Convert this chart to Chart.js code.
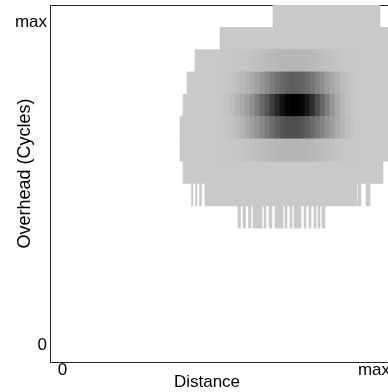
<!DOCTYPE html>
<html><head><meta charset="utf-8">
<script src="https://cdn.jsdelivr.net/npm/chart.js@4"></script>
<style>html,body{margin:0;padding:0;overflow:hidden;background:#fff;width:388px;height:392px}canvas{display:block}</style>
</head><body>
<canvas id="c" width="414" height="392"></canvas>
<script>
const xTitle = 'Distance';
const yTitle = 'Overhead (Cycles)';
const xTickLabels = ['0', 'max'];
const xTickValues = [12.5, 324];
const yTickLabels = ['0', 'max'];
const yTickValues = [0.74, 15.21];
const distanceMax = 364;
const overheadMax = 16;

// flat runs: [overhead row, distance from, distance to, grey level]
const flatRuns = [
  [15, 223, 330, 201],
  [14, 170, 350, 201],
  [13, 145, 170, 201], [13, 310, 350, 201],
  [12, 137, 170, 201], [12, 310, 350, 201],
  [11, 133, 170, 201], [11, 310, 350, 201],
  [10, 130, 170, 201], [10, 310, 350, 201],
  [9, 130, 170, 201], [9, 310, 350, 201],
  [8, 133, 333, 201],
  [7, 141.5, 143, 201], [7, 145.5, 147, 201], [7, 149.5, 151.5, 201], [7, 155, 307, 201],
  [7, 308, 311, 201], [7, 316, 320, 201],
  [6, 188, 190.5, 201], [6, 193, 195.5, 201], [6, 198.5, 201, 201], [6, 203, 212, 201],
  [6, 214, 216, 201], [6, 219, 222, 201], [6, 225, 233, 201], [6, 235, 237, 201],
  [6, 240, 242, 201], [6, 244, 251, 201], [6, 254, 256, 201], [6, 259, 261, 201],
  [6, 264, 266, 201], [6, 268, 270, 201], [6, 272, 275, 201]
];

// gradient rows: greys per distance bin, starting at gradientFrom, bin width gradientBin
const gradientFrom = 170;
const gradientBin = 5;
const gradientRows = [13, 12, 11, 10, 9];
const grey13 = [200,200,199,198,197,196,194,192,190,188,186,184,183,182,182,182,183,184,186,188,190,192,194,196,198,199,200,200];
const grey12 = [200,198,195,190,185,178,170,160,150,138,126,114,104,97,94,95,100,108,118,130,142,155,166,176,185,192,197,200];
const grey11 = [198,194,188,180,170,158,143,125,105,85,62,40,20,6,0,0,8,25,48,75,102,128,150,168,182,192,197,200];
const grey10 = [200,197,193,187,180,171,160,148,135,121,108,96,86,80,78,80,86,95,106,118,132,146,159,171,181,189,196,200];
const grey9  = [200,200,199,198,196,194,192,190,188,186,184,182,181,180,180,180,181,182,184,186,188,190,193,195,197,199,200,200];
const gradientGreys = [grey13, grey12, grey11, grey10, grey9];

const cells = [];
flatRuns.forEach(([r, a, b, g]) => cells.push({ y: r + 0.5, x: [a, b], g }));
gradientRows.forEach((r, k) => {
  gradientGreys[k].forEach((g, i) => {
    cells.push({ y: r + 0.5, x: [gradientFrom + i * gradientBin, gradientFrom + (i + 1) * gradientBin], g });
  });
});

const family = "'Liberation Sans', Arial, sans-serif";
const font = { family, size: 17, weight: 'normal', lineHeight: 1 };
const yTitleFont = { family, size: 18, weight: 'normal', lineHeight: 1 };
const axisColor = '#222';
const noPad = s => { s.paddingTop = 0; s.paddingBottom = 0; s.paddingLeft = 0; s.paddingRight = 0; };

new Chart(document.getElementById('c'), {
  type: 'bar',
  data: {
    datasets: [{
      data: cells,
      backgroundColor: c => { const g = c.raw ? c.raw.g : 201; return `rgb(${g},${g},${g})`; },
      borderWidth: 0,
      barPercentage: 1,
      categoryPercentage: 1
    }]
  },
  options: {
    indexAxis: 'y',
    responsive: false,
    animation: false,
    events: [],
    devicePixelRatio: 1,
    layout: { padding: { top: 5, left: 0, right: 0, bottom: 0 } },
    plugins: {
      legend: { display: false },
      tooltip: { enabled: false },
      title: {
        display: true, text: xTitle, position: 'bottom', align: 'center', fullSize: true,
        color: '#000', font: font, padding: { top: -8, bottom: 1 }
      }
    },
    scales: {
      x: {
        type: 'linear', position: 'bottom', min: 0, max: distanceMax, offset: false,
        grid: { display: false, drawTicks: false },
        border: { display: true, color: axisColor, width: 1 },
        ticks: { color: '#000', font: font, padding: 0, autoSkip: false, maxRotation: 0,
          callback: (v, i) => xTickLabels[i] },
        afterBuildTicks: s => { s.ticks = xTickValues.map(v => ({ value: v })); },
        afterFit: s => { s.height = 20; noPad(s); }
      },
      xTop: {
        type: 'linear', position: 'top', min: 0, max: distanceMax, offset: false,
        grid: { display: false, drawTicks: false },
        border: { display: true, color: axisColor, width: 1 },
        ticks: { display: false },
        afterFit: s => { s.height = 0; noPad(s); }
      },
      y: {
        type: 'linear', position: 'left', min: 0, max: overheadMax, offset: false,
        grid: { display: false, drawTicks: false },
        border: { display: true, color: axisColor, width: 1 },
        ticks: { color: '#000', font: font, padding: 3, autoSkip: false,
          callback: (v, i) => yTickLabels[i] },
        afterBuildTicks: s => { s.ticks = yTickValues.map(v => ({ value: v })); },
        afterFit: s => { s.width = 50; noPad(s); },
        title: { display: true, text: '    ' + yTitle, color: '#000', font: yTitleFont, padding: { top: 16.5, bottom: 0 } }
      }
    }
  }
});
</script>
</body></html>
